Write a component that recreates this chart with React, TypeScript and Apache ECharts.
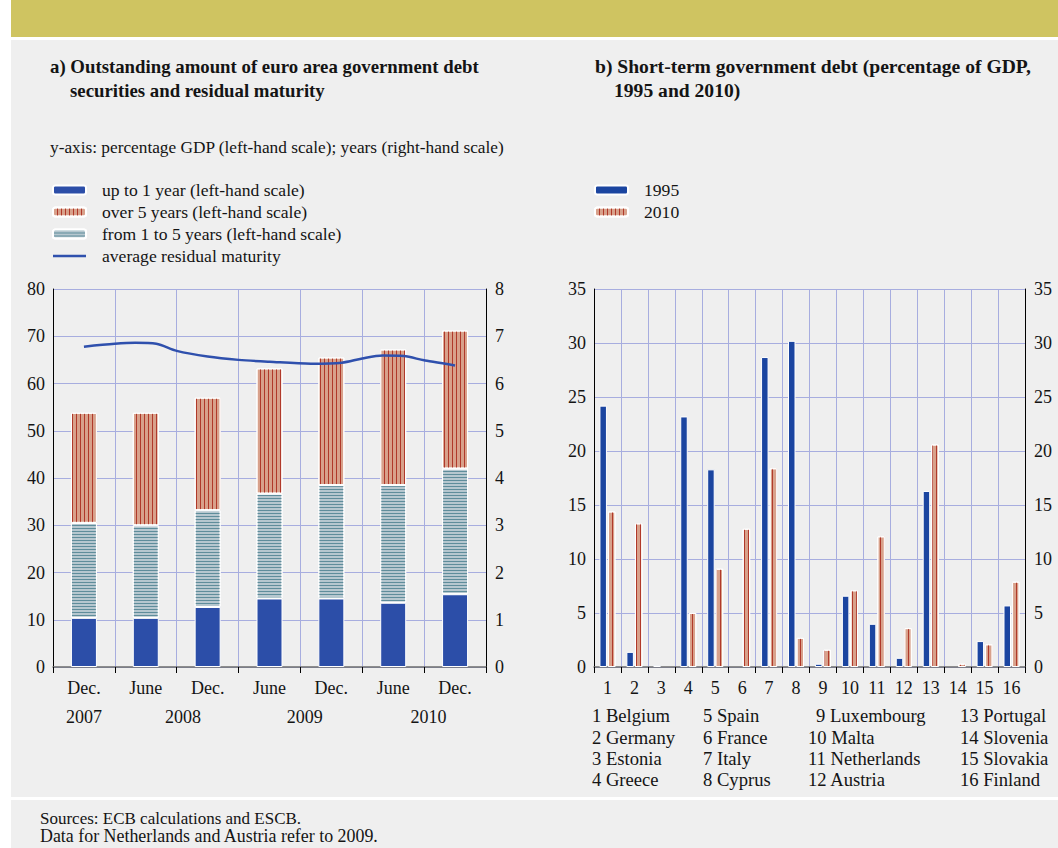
import React, { useEffect, useRef } from "react";
import * as echarts from "echarts";

// ---------- data: panel a ----------
const periods = ["Dec.", "June", "Dec.", "June", "Dec.", "June", "Dec."];
const yearLabels = ["2007", "2008", "2009", "2010"];
const yearPositions = [0.5, 2.1, 4.07, 6.07];
const upTo1Year = [10.4, 10.4, 12.7, 14.5, 14.5, 13.6, 15.4];
const from1To5Years = [20.1, 19.6, 20.5, 22.2, 24.0, 24.9, 26.6];
const over5Years = [23.3, 23.8, 23.8, 26.5, 27.0, 28.7, 29.2];
const maturityPos = [0.5, 1.0, 1.33, 1.67, 2.0, 2.5, 3.0, 3.5, 4.17, 4.67, 5.0, 5.33, 5.67, 6.0, 6.5];
const maturityYears = [6.78, 6.84, 6.86, 6.84, 6.69, 6.57, 6.5, 6.46, 6.42, 6.44, 6.53, 6.59, 6.58, 6.49, 6.38];

// ---------- data: panel b ----------
const countryNums = ["1", "2", "3", "4", "5", "6", "7", "8", "9", "10", "11", "12", "13", "14", "15", "16"];
const countries = [
  "Belgium", "Germany", "Estonia", "Greece", "Spain", "France", "Italy", "Cyprus",
  "Luxembourg", "Malta", "Netherlands", "Austria", "Portugal", "Slovenia", "Slovakia", "Finland",
];
const debt1995 = [24.2, 1.4, 0.15, 23.2, 18.3, 0, 28.7, 30.2, 0.3, 6.6, 4.0, 0.85, 16.3, 0, 2.4, 5.7];
const debt2010 = [14.4, 13.3, 0, 5.0, 9.1, 12.8, 18.4, 2.7, 1.6, 7.1, 12.1, 3.6, 20.6, 0.3, 2.1, 7.9];

const FONT = '"Liberation Serif", "Times New Roman", serif';
const GRID = "#a7addf";
const TXT = "#141414";

export default function App() {
  const ref = useRef<HTMLDivElement>(null);

  useEffect(() => {
    if (!ref.current) return;
    const chart = echarts.init(ref.current, undefined, { renderer: "svg" });

    const vStripe = (color: string, gap: number) => ({
      symbol: "rect",
      symbolSize: 1,
      color,
      dashArrayX: [1, gap],
      dashArrayY: [4, 0],
    });
    const hStripe = (color: string, gap: number) => ({
      symbol: "rect",
      symbolSize: 1,
      color,
      dashArrayX: [4, 0],
      dashArrayY: [1, gap],
    });

    const text = (t: string, x: number, y: number, size: number, bold = false) => ({
      type: "text",
      x,
      y,
      style: {
        text: t,
        font: `${bold ? "bold " : ""}${size}px ${FONT}`,
        fill: TXT,
        textVerticalAlign: "middle",
      },
    });

    const colX = [592, 703, 808, 960];
    const rowY = [715, 737, 758, 779];
    const countryTexts = countries.map((c, i) => {
      const col = Math.floor(i / 4);
      const row = i % 4;
      const n = i + 1;
      const x = colX[col] + (col === 2 && n < 10 ? 8 : 0);
      return text(`${countryNums[i]} ${c}`, x, rowY[row], 18.6);
    });

    const noZeroBorder = (arr: number[]) =>
      arr.map((v) => (v === 0 ? { value: v, itemStyle: { borderWidth: 0 } } : v));

    const axisLabelStyle = { fontFamily: FONT, fontSize: 18, color: TXT };
    const legendText = { fontFamily: FONT, fontSize: 17.6, color: TXT, padding: [0, 0, 0, 11] };

    chart.setOption({
      animation: false,
      backgroundColor: "transparent",
      graphic: [
        text("a) Outstanding amount of euro area government debt", 50, 66, 18.8, true),
        text("securities and residual maturity", 70, 90, 18.8, true),
        text("b) Short-term government debt (percentage of GDP,", 595, 66, 19.6, true),
        text("1995 and 2010)", 614, 90, 19.6, true),
        text("y-axis: percentage GDP (left-hand scale); years (right-hand scale)", 50, 147, 17.3),
        ...countryTexts,
        text("Sources: ECB calculations and ESCB.", 40, 818, 17),
        text("Data for Netherlands and Austria refer to 2009.", 40, 836, 17.9),
      ],
      legend: [
        {
          orient: "vertical",
          left: 52,
          top: 181,
          padding: 0,
          itemWidth: 33,
          itemHeight: 9,
          itemGap: 4,
          selectedMode: false,
          data: [
            "up to 1 year (left-hand scale)",
            "over 5 years (left-hand scale)",
            "from 1 to 5 years (left-hand scale)",
            { name: "average residual maturity", icon: "path://M0,0H33V2.6H0Z" },
          ],
          textStyle: legendText,
        },
        {
          orient: "vertical",
          left: 594,
          top: 181,
          padding: 0,
          itemWidth: 33,
          itemHeight: 9,
          itemGap: 4,
          selectedMode: false,
          data: ["1995", "2010"],
          textStyle: legendText,
        },
      ],
      grid: [
        { left: 53, top: 289, width: 433, height: 378 },
        { left: 594, top: 289, width: 431, height: 378 },
      ],
      xAxis: [
        {
          type: "category",
          gridIndex: 0,
          data: periods,
          boundaryGap: true,
          axisLine: { lineStyle: { color: "#6d6d6d", width: 1.5 } },
          axisTick: { show: true, interval: 0, length: 6, lineStyle: { color: "#000" } },
          axisLabel: { ...axisLabelStyle, interval: 0, margin: 12 },
          splitLine: { show: true, interval: 0, lineStyle: { color: GRID } },
        },
        {
          type: "value",
          gridIndex: 0,
          min: 0,
          max: 7,
          position: "bottom",
          axisLine: { show: false },
          axisTick: { show: false },
          splitLine: { show: false },
          axisLabel: {
            ...axisLabelStyle,
            margin: 41,
            customValues: yearPositions,
            formatter: (v: number) => {
              const i = yearPositions.indexOf(v);
              return i >= 0 ? yearLabels[i] : "";
            },
          },
        },
        {
          type: "category",
          gridIndex: 1,
          data: countryNums,
          boundaryGap: true,
          axisLine: { lineStyle: { color: "#6d6d6d", width: 1.5 } },
          axisTick: { show: true, interval: 0, length: 6, lineStyle: { color: "#000" } },
          axisLabel: { ...axisLabelStyle, interval: 0, margin: 12 },
          splitLine: { show: true, interval: 0, lineStyle: { color: GRID } },
        },
      ],
      yAxis: [
        {
          type: "value",
          gridIndex: 0,
          min: 0,
          max: 80,
          interval: 10,
          position: "left",
          axisLine: { show: true, lineStyle: { color: "#000" } },
          axisTick: { show: false },
          axisLabel: { ...axisLabelStyle, margin: 8 },
          splitLine: { show: true, lineStyle: { color: GRID } },
        },
        {
          type: "value",
          gridIndex: 0,
          min: 0,
          max: 8,
          interval: 1,
          position: "right",
          axisLine: { show: true, lineStyle: { color: "#000" } },
          axisTick: { show: false },
          axisLabel: { ...axisLabelStyle, margin: 9 },
          splitLine: { show: false },
        },
        {
          type: "value",
          gridIndex: 1,
          min: 0,
          max: 35,
          interval: 5,
          position: "left",
          axisLine: { show: true, lineStyle: { color: "#000" } },
          axisTick: { show: false },
          axisLabel: { ...axisLabelStyle, margin: 8 },
          splitLine: { show: true, lineStyle: { color: GRID } },
        },
        {
          type: "value",
          gridIndex: 1,
          min: 0,
          max: 35,
          interval: 5,
          position: "right",
          axisLine: { show: true, lineStyle: { color: "#000" } },
          axisTick: { show: false },
          axisLabel: { ...axisLabelStyle, margin: 9 },
          splitLine: { show: false },
        },
      ],
      series: [
        {
          name: "up to 1 year (left-hand scale)",
          type: "bar",
          xAxisIndex: 0,
          yAxisIndex: 0,
          stack: "a",
          barWidth: 26,
          data: upTo1Year,
          itemStyle: { color: "#2c4ea8", borderColor: "#ffffff", borderWidth: 1 },
        },
        {
          name: "from 1 to 5 years (left-hand scale)",
          type: "bar",
          xAxisIndex: 0,
          yAxisIndex: 0,
          stack: "a",
          barWidth: 26,
          data: from1To5Years,
          itemStyle: { color: "#b6c7cf", borderColor: "#ffffff", borderWidth: 1, decal: hStripe("#5f8d9b", 1.8) },
        },
        {
          name: "over 5 years (left-hand scale)",
          type: "bar",
          xAxisIndex: 0,
          yAxisIndex: 0,
          stack: "a",
          barWidth: 26,
          data: over5Years,
          itemStyle: { color: "#d8a18b", borderColor: "#ffffff", borderWidth: 1, decal: vStripe("#b0392a", 2.4) },
        },
        {
          name: "average residual maturity",
          type: "line",
          xAxisIndex: 1,
          yAxisIndex: 1,
          smooth: 0.3,
          symbol: "none",
          data: maturityPos.map((p, i) => [p, maturityYears[i]]),
          lineStyle: { color: "#2f50ad", width: 2.5 },
          itemStyle: { color: "#2f50ad" },
          z: 5,
        },
        {
          name: "1995",
          type: "bar",
          xAxisIndex: 2,
          yAxisIndex: 2,
          barWidth: 7.5,
          barGap: "14%",
          data: noZeroBorder(debt1995),
          itemStyle: { color: "#1b45a0", borderColor: "#ffffff", borderWidth: 1 },
        },
        {
          name: "2010",
          type: "bar",
          xAxisIndex: 2,
          yAxisIndex: 2,
          barWidth: 7.5,
          barGap: "14%",
          data: noZeroBorder(debt2010),
          itemStyle: { color: "#d8a18b", borderColor: "#ffffff", borderWidth: 1, decal: vStripe("#b0392a", 3) },
        },
      ],
    });

    return () => chart.dispose();
  }, []);

  const panel = (top: number, height: number, bg: string) => (
    <div style={{ position: "absolute", left: 11, top, width: 1047, height, background: bg }} />
  );

  return (
    <div style={{ position: "absolute", left: 0, top: 0, width: 1058, height: 848, background: "#ffffff", overflow: "hidden" }}>
      {panel(0, 37, "#cfc461")}
      {panel(40, 757, "#efefef")}
      {panel(800, 48, "#efefef")}
      <div ref={ref} style={{ position: "absolute", left: 0, top: 0, width: 1058, height: 848 }} />
    </div>
  );
}
